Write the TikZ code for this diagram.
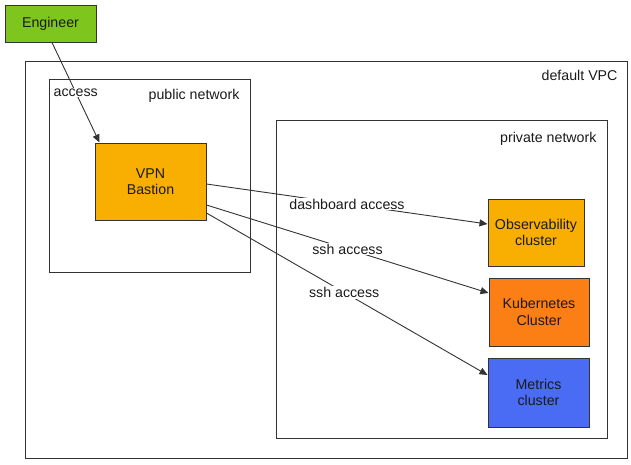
\documentclass[tikz,border=0pt]{standalone}
\usepackage{fontspec}
\setmainfont{Liberation Sans}
\usetikzlibrary{arrows.meta,calc}
\definecolor{edgegray}{HTML}{333333}
\definecolor{txt}{HTML}{1A1A1A}
\definecolor{enggreen}{HTML}{7EC61E}
\definecolor{amber}{HTML}{F9AE02}
\definecolor{orangek}{HTML}{FB7F14}
\definecolor{bluem}{HTML}{4A6CF4}
\begin{document}
\begin{tikzpicture}[x=1pt,y=-1pt,
  every node/.style={font=\fontsize{14.2}{16.5}\selectfont, text=txt},
  container/.style={draw=edgegray, line width=1pt, inner sep=0pt, anchor=north west},
  box/.style={draw=edgegray, line width=1pt, inner sep=0pt, align=center},
  conn/.style={draw=edgegray, line width=0.9pt, -{Triangle[length=8pt,width=7pt]}},
  lbl/.style={fill=white, inner sep=1pt}]
\useasboundingbox (0,0) rectangle (631,464);
% containers
\node[container, minimum width=602pt, minimum height=397pt] (vpc) at (25,61) {};
\node[anchor=east] (vpclbl) at (621,75) {default VPC};
\node[container, minimum width=201pt, minimum height=193pt] (pub) at (49,79) {};
\node[anchor=east] (publbl) at (243,96) {public network};
\node[container, minimum width=331pt, minimum height=318pt] (priv) at (276,120) {};
\node[anchor=east] (privlbl) at (600,139) {private network};
% boxes
\node[box, fill=enggreen, minimum width=91pt, minimum height=37pt] (eng) at (50.5,23.5) {Engineer};
\node[box, fill=amber, minimum width=111pt, minimum height=77pt] (vpn) at (150.5,181.5) {VPN\\Bastion};
\node[box, fill=amber, minimum width=96pt, minimum height=67pt] (obs) at (536,232.5) {Observability\\cluster};
\node[box, fill=orangek, minimum width=100pt, minimum height=68pt] (kube) at (539,312) {Kubernetes\\Cluster};
\node[box, fill=bluem, minimum width=101pt, minimum height=69pt] (met) at (538.5,392.5) {Metrics\\cluster};
% connectors
\draw[conn] ($(eng.south)+(1.5,0)$) -- node[lbl] {access} ($(vpn.north west)+(5,0)$);
\draw[conn] ($(vpn.east)+(0,2.5)$) -- node[lbl] {dashboard access} ($(obs.west)+(0,-8.5)$);
\draw[conn] ($(vpn.east)+(0,23.5)$) -- node[lbl] {ssh access} ($(kube.west)+(0,-19)$);
\draw[conn] ($(vpn.east)+(0,31.5)$) -- node[lbl, pos=0.49] {ssh access} ($(met.west)+(0,-17.5)$);
\end{tikzpicture}
\end{document}
